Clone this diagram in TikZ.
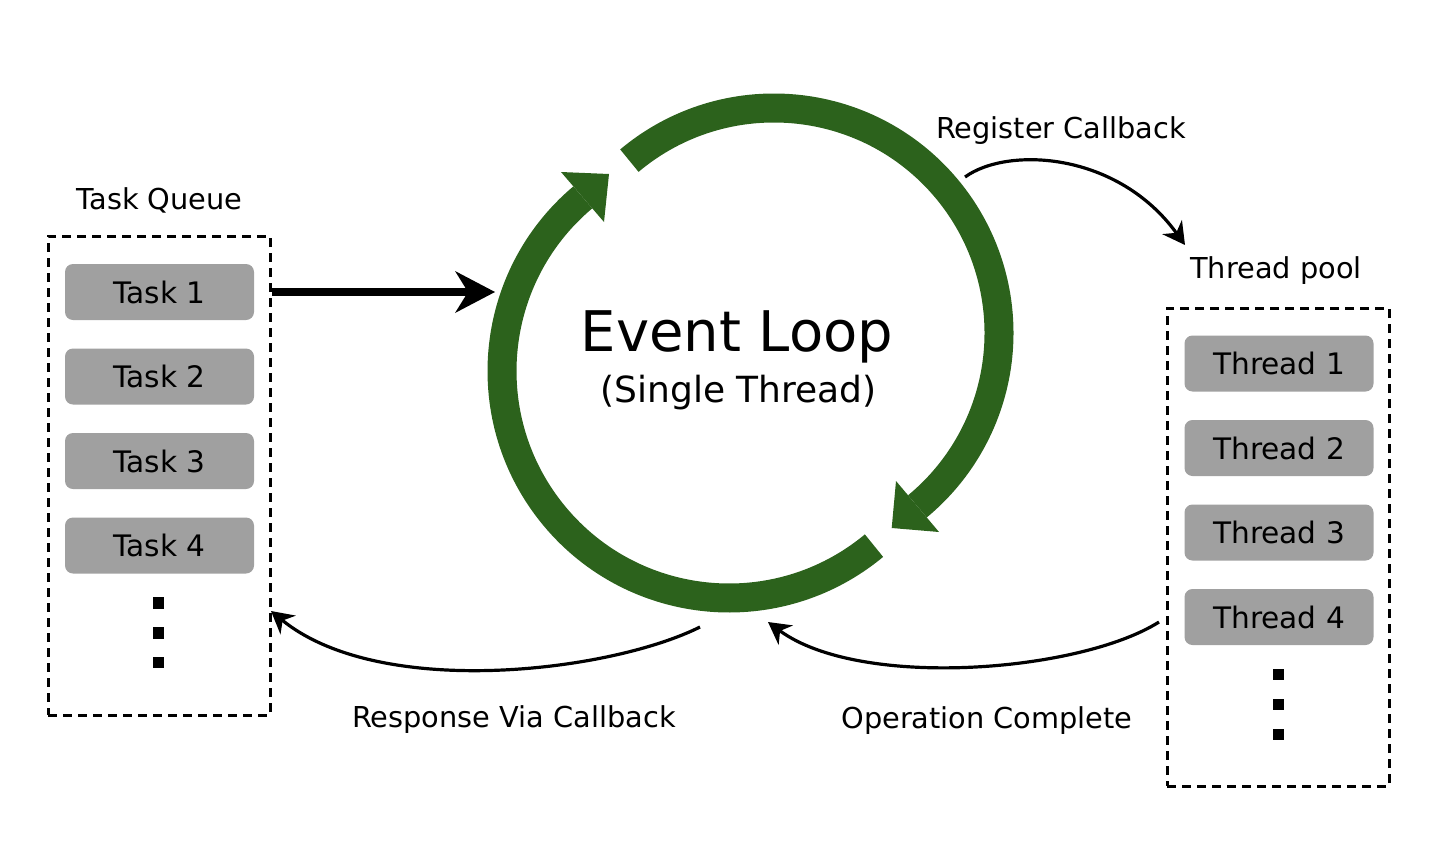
\documentclass[tikz,border=0pt]{standalone}
\usepackage{fontspec}
\setmainfont{DejaVu Sans}
\usetikzlibrary{arrows.meta}
\definecolor{ringgreen}{RGB}{44,98,28}
\definecolor{boxgray}{RGB}{160,160,160}
\begin{document}
\begin{tikzpicture}[x=0.5pt,y=-0.5pt,
  lbl/.style={anchor=base,inner sep=0pt,font=\fontsize{14.4}{17}\selectfont},
  itembox/.style={draw=none,fill=boxgray,rounded corners=4pt,minimum width=94.5pt,minimum height=28pt,inner sep=0pt,font=\fontsize{14.8}{17}\selectfont},
  container/.style={draw=black,line width=1.5pt,dash pattern=on 4.5pt off 3pt,minimum width=111pt,inner sep=0pt},
  dotsq/.style={fill=black,minimum size=5.8pt,inner sep=0pt},
  ring/.style={draw=ringgreen,line width=14.5pt,line cap=butt},
  ringtip/.style={fill=ringgreen,draw=none},
  conn/.style={draw=black,line width=1.6pt,-{Stealth[length=11pt,width=12pt,inset=3.5pt]}},
  bigarrow/.style={draw=black,line width=4pt,-{Stealth[length=20pt,width=21pt,inset=6.5pt,line width=0pt]}}
]
\useasboundingbox (0,0) rectangle (1434,846);

% containers
\node[container,minimum height=239.5pt] (tq) at (159,475.5) {};
\node[container,minimum height=239pt] (tp) at (1278,547) {};

% task boxes
\node[itembox] (t1) at (159.5,292) {Task 1};
\node[itembox] (t2) at (159.5,376.5) {Task 2};
\node[itembox] (t3) at (159.5,461) {Task 3};
\node[itembox] (t4) at (159.5,545.5) {Task 4};
\node[dotsq] (td1) at (158.3,602.7) {};
\node[dotsq] (td2) at (158.3,632.7) {};
\node[dotsq] (td3) at (158.3,662.3) {};

% thread boxes
\node[itembox] (h1) at (1279,363.5) {Thread 1};
\node[itembox] (h2) at (1279,448) {Thread 2};
\node[itembox] (h3) at (1279,532.5) {Thread 3};
\node[itembox] (h4) at (1279,617) {Thread 4};
\node[dotsq] (hd1) at (1278.3,674.3) {};
\node[dotsq] (hd2) at (1278.3,704.3) {};
\node[dotsq] (hd3) at (1278.3,734.3) {};

% labels
\node[lbl] (lq) at (159.5,209) {Task Queue};
\node[lbl] (lp) at (1276,278) {Thread pool};
\node[lbl] (lr) at (1061,138) {Register Callback};
\node[lbl] (lv) at (514,727) {Response Via Callback};
\node[lbl] (lo) at (987,728) {Operation Complete};

% event loop ring
\draw[ring] (774,333) ++(-130:225) arc[start angle=-130,end angle=50.4,radius=225];
\fill[ringtip] (896,481) -- (891.7,528) -- (939,532) -- cycle;
\draw[ring] (729,371) ++(50.3:227) arc[start angle=50.3,end angle=229.9,radius=227];
\fill[ringtip] (561,172) -- (609,174) -- (604,222) -- cycle;

\node[anchor=base,inner sep=0pt,font=\fontsize{28}{32}\selectfont] (ev) at (737,351) {Event Loop};
\node[anchor=base,inner sep=0pt,font=\fontsize{18}{22}\selectfont] (st) at (738.5,402) {(Single Thread)};

% connectors
\coordinate (evin) at (495,292);
\draw[bigarrow] (t1 -| tq.east) -- (evin);

\coordinate (rcS) at (965,177);
\coordinate (rcE) at (1185,245);
\draw[conn] (rcS) .. controls (1008,146) and (1118,152) .. (rcE);

\coordinate (rvS) at (700,627);
\coordinate (rvE) at (271,611);
\draw[conn] (rvS) .. controls (610,672) and (380,700) .. (rvE);

\coordinate (ocS) at (1159,622);
\coordinate (ocE) at (768,622);
\draw[conn] (ocS) .. controls (1080,672) and (860,690) .. (ocE);
\end{tikzpicture}
\end{document}
